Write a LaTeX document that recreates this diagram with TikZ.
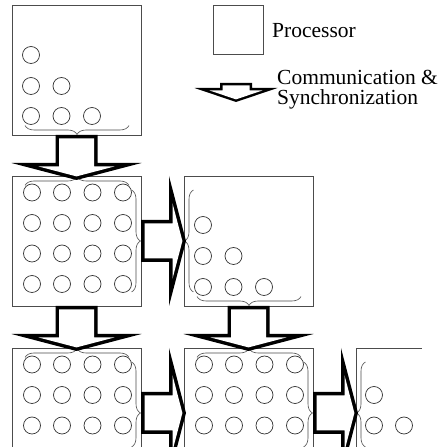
\documentclass[tikz,border=0pt]{standalone}
\usepackage{fontspec}
\setmainfont{Liberation Serif}
\usetikzlibrary{decorations.pathreplacing}
\tikzset{
 pbox/.style={draw=black!70, line width=0.8pt, minimum width=129pt, minimum height=130pt, inner sep=0pt, outer sep=0pt},
 cutbox/.style={minimum width=129pt, minimum height=99pt, inner sep=0pt, outer sep=0pt},
 edge/.style={draw=black!70, line width=0.8pt},
 lbox/.style={draw=black!70, line width=0.8pt, minimum width=50pt, minimum height=49pt, inner sep=0pt, outer sep=0pt},
 proc/.style={circle, draw=black!80, line width=0.7pt, minimum size=17pt, inner sep=0pt, outer sep=0pt},
 brc/.style={draw=black!70, line width=0.6pt, decorate, decoration={brace, amplitude=9pt}},
 lbl/.style={font=\fontsize{21.5}{20}\selectfont, inner sep=0pt, anchor=base west},
 downarrow/.pic={
  \fill[black] (-21pt,0pt) -- (21pt,0pt) -- (21pt,-28pt) -- (65pt,-28pt) -- (0pt,-45pt) -- (-65pt,-28pt) -- (-21pt,-28pt) -- cycle;
  \fill[white] (-17.5pt,-3.5pt) -- (17.5pt,-3.5pt) -- (17.5pt,-31.5pt) -- (37.8pt,-31.5pt) -- (0pt,-41.4pt) -- (-37.8pt,-31.5pt) -- (-17.5pt,-31.5pt) -- cycle;
 },
 rightarrow/.pic={
  \fill[black] (0pt,21pt) -- (28pt,21pt) -- (28pt,65pt) -- (45pt,0pt) -- (28pt,-65pt) -- (28pt,-21pt) -- (0pt,-21pt) -- cycle;
  \fill[white] (3.5pt,17.5pt) -- (31.5pt,17.5pt) -- (31.5pt,37.8pt) -- (41.4pt,0pt) -- (31.5pt,-37.8pt) -- (31.5pt,-17.5pt) -- (3.5pt,-17.5pt) -- cycle;
 },
 rightarrowcut/.pic={
  \fill[black] (0pt,21pt) -- (28pt,21pt) -- (28pt,65pt) -- (45pt,0pt) -- (36.1pt,-34pt) -- (28pt,-34pt) -- (28pt,-21pt) -- (0pt,-21pt) -- cycle;
  \fill[white] (3.5pt,17.5pt) -- (31.5pt,17.5pt) -- (31.5pt,37.8pt) -- (41.4pt,0pt) -- (32.5pt,-34pt) -- (31.5pt,-34pt) -- (31.5pt,-17.5pt) -- (3.5pt,-17.5pt) -- cycle;
 },
 smallarrow/.pic={
  \fill[black] (-16pt,0pt) -- (16pt,0pt) -- (16pt,-5pt) -- (41.5pt,-5pt) -- (0pt,-19pt) -- (-41.5pt,-5pt) -- (-16pt,-5pt) -- cycle;
  \fill[white] (-13.5pt,-2.5pt) -- (13.5pt,-2.5pt) -- (13.5pt,-7.5pt) -- (26.3pt,-7.5pt) -- (0pt,-16.4pt) -- (-26.3pt,-7.5pt) -- (-13.5pt,-7.5pt) -- cycle;
 }
}
\begin{document}
\begin{tikzpicture}[x=1pt,y=1pt]
\useasboundingbox (0,0) rectangle (448,447);
\fill[white] (0,0) rectangle (448,447);

% processor boxes (top two rows complete)
\node[pbox] (b1) at (76.5,377) {};
\node[pbox] (b2) at (76.5,206) {};
\node[pbox] (b3) at (248.5,206) {};
% bottom row, cut by the lower edge of the figure
\node[cutbox] (b4) at (76.5,49.5) {};
\node[cutbox] (b5) at (248.5,49.5) {};
\node[cutbox] (b6) at (420.5,49.5) {};
\draw[edge] (b4.south west) -- (b4.north west) -- (b4.north east) -- (b4.south east);
\draw[edge] (b5.south west) -- (b5.north west) -- (b5.north east) -- (b5.south east);
\draw[edge] (b6.south west) -- (b6.north west) -- ([xshift=66pt]b6.north west);

% triangular sets of processes
\node[proc] (b1c1) at (31,392) {};
\node[proc] (b1c2) at (31,361) {};
\node[proc] (b1c3) at (61.5,361) {};
\node[proc] (b1c4) at (31,331) {};
\node[proc] (b1c5) at (61.5,331) {};
\node[proc] (b1c6) at (92,331) {};
\node[proc] (b3c1) at (203,222) {};
\node[proc] (b3c2) at (203,191) {};
\node[proc] (b3c3) at (233.5,191) {};
\node[proc] (b3c4) at (203,160) {};
\node[proc] (b3c5) at (233.5,160) {};
\node[proc] (b3c6) at (264,160) {};
\node[proc] (b6c1) at (374,52) {};
\node[proc] (b6c2) at (374,21.5) {};
\node[proc] (b6c3) at (404,21.5) {};

% grids of processes
\foreach \i/\cx in {1/32,2/62,3/92.5,4/123}{
  \foreach \j/\cy in {1/254.5,2/224,3/193.5,4/163}{
    \node[proc] (b2c\i\j) at (\cx,\cy) {};
  }
  \foreach \j/\cy in {1/82.5,2/52,3/21.5}{
    \node[proc] (b4c\i\j) at (\cx,\cy) {};
  }
}
\foreach \i/\cx in {1/204,2/234,3/264.5,4/295}{
  \foreach \j/\cy in {1/82.5,2/52,3/21.5}{
    \node[proc] (b5c\i\j) at (\cx,\cy) {};
  }
}

% braces
\draw[brc] (129,321.5) -- (25,321.5);   % b1 bottom
\draw[brc] (301,150.5) -- (197,150.5);  % b3 bottom
\draw[brc] (25,261.5) -- (129,261.5);   % b2 top
\draw[brc] (25,89.5) -- (129,89.5);     % b4 top
\draw[brc] (197,89.5) -- (301,89.5);    % b5 top
\draw[brc] (131.5,257) -- (131.5,155);  % b2 right
\draw[brc] (193.5,155) -- (193.5,257);  % b3 left
\draw[brc, decoration={aspect=0.6}] (131.5,85) -- (131.5,0);  % b4 right
\draw[brc, decoration={aspect=0.6}] (303.5,85) -- (303.5,0);  % b5 right
\draw[brc, decoration={aspect=0.4}] (365.5,0) -- (365.5,85);  % b6 left

% communication and synchronization arrows
\pic at (b1.south) {downarrow};
\pic at (b2.south) {downarrow};
\pic at (b3.south) {downarrow};
\pic at (b2.east) {rightarrow};
\pic at ([yshift=-15.5pt]b4.east) {rightarrowcut};
\pic at ([yshift=-15.5pt]b5.east) {rightarrowcut};

% legend
\node[lbox] (lb) at (238,417.5) {};
\node[lbl] (tproc) at (272,409) {Processor};
\coordinate (la) at (236,364);
\pic at (la) {smallarrow};
\node[lbl] (tcomm) at (277,362) {Communication \&};
\node[lbl] (tsync) at (277,342) {Synchronization};
\end{tikzpicture}
\end{document}
